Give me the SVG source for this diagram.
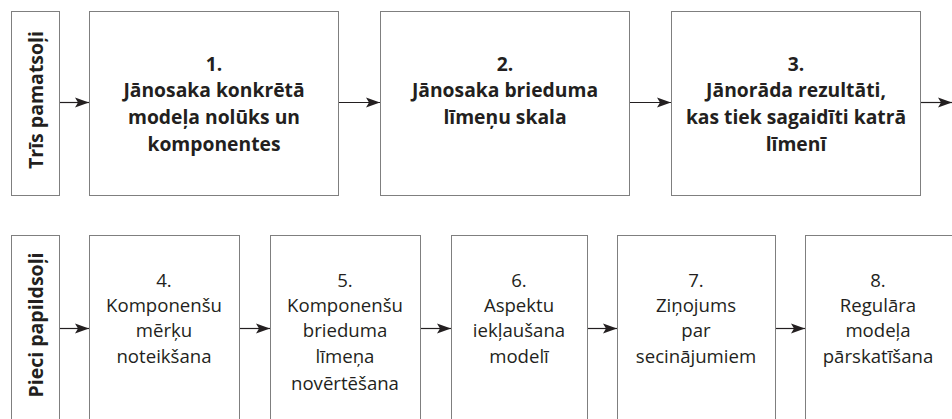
<svg xmlns="http://www.w3.org/2000/svg" width="952" height="419" viewBox="0 0 952 419">
<style>
.box{fill:#fff;stroke:#7f7f7f;stroke-width:1}
.b{font-family:"Open Sans","Liberation Sans",sans-serif;font-weight:bold;font-size:19.3px;fill:#231f20;text-anchor:middle}
.r{font-family:"Open Sans","Liberation Sans",sans-serif;font-size:18.6px;fill:#231f20;text-anchor:middle}
.lab{font-family:"Open Sans","Liberation Sans",sans-serif;font-weight:bold;font-size:19.5px;fill:#231f20;text-anchor:middle}
.con{stroke:#231f20;stroke-width:1.2;fill:none;marker-end:url(#ah)}
</style>
<defs>
<marker id="ah" markerUnits="userSpaceOnUse" markerWidth="16" markerHeight="12" refX="14" refY="6" orient="auto">
<path d="M0,1 L14,6 L0,11 L3,6 Z" fill="#231f20"/>
</marker>
</defs>
<rect width="952" height="419" fill="#fff"/>
<g id="label-top">
<rect class="box" x="11.5" y="11.5" width="48" height="184"/>
<text class="lab" transform="translate(43,100) rotate(-90)">Trīs pamatsoļi</text>
</g>
<g id="node1">
<rect class="box" x="89.5" y="11.5" width="249" height="184"/>
<text class="b" x="214" y="71">1.</text>
<text class="b" x="214" y="97">Jānosaka konkrētā</text>
<text class="b" x="214" y="124">modeļa nolūks un</text>
<text class="b" x="214" y="151">komponentes</text>
</g>
<g id="node2">
<rect class="box" x="380.5" y="11.5" width="249" height="184"/>
<text class="b" x="505" y="71">2.</text>
<text class="b" x="505" y="97">Jānosaka brieduma</text>
<text class="b" x="505" y="124">līmeņu skala</text>
</g>
<g id="node3">
<rect class="box" x="671.5" y="11.5" width="249" height="184"/>
<text class="b" x="796" y="71">3.</text>
<text class="b" x="796" y="97">Jānorāda rezultāti,</text>
<text class="b" x="796" y="124">kas tiek sagaidīti katrā</text>
<text class="b" x="796" y="151">līmenī</text>
</g>
<g id="label-bottom">
<rect class="box" x="11.5" y="235.5" width="48" height="200"/>
<text class="lab" transform="translate(43,325) rotate(-90)">Pieci papildsoļi</text>
</g>
<g id="node4">
<rect class="box" x="89.5" y="235.5" width="150" height="200"/>
<text class="r" x="164" y="287">4.</text>
<text class="r" x="164" y="312">Komponenšu</text>
<text class="r" x="164" y="337">mērķu</text>
<text class="r" x="164" y="363">noteikšana</text>
</g>
<g id="node5">
<rect class="box" x="270.5" y="235.5" width="150" height="200"/>
<text class="r" x="345" y="287">5.</text>
<text class="r" x="345" y="312">Komponenšu</text>
<text class="r" x="345" y="337">brieduma</text>
<text class="r" x="345" y="363">līmeņa</text>
<text class="r" x="345" y="390">novērtēšana</text>
</g>
<g id="node6">
<rect class="box" x="451.5" y="235.5" width="136" height="200"/>
<text class="r" x="519" y="287">6.</text>
<text class="r" x="519" y="312">Aspektu</text>
<text class="r" x="519" y="337">iekļaušana</text>
<text class="r" x="519" y="363">modelī</text>
</g>
<g id="node7">
<rect class="box" x="617.5" y="235.5" width="158" height="200"/>
<text class="r" x="696" y="287">7.</text>
<text class="r" x="696" y="312">Ziņojums</text>
<text class="r" x="696" y="337">par</text>
<text class="r" x="696" y="363">secinājumiem</text>
</g>
<g id="node8">
<rect class="box" x="805.5" y="235.5" width="160" height="200"/>
<text class="r" x="878" y="287">8.</text>
<text class="r" x="878" y="312">Regulāra</text>
<text class="r" x="878" y="337">modeļa</text>
<text class="r" x="878" y="363">pārskatīšana</text>
</g>
<g id="connectors">
<line class="con" x1="60" y1="102.5" x2="89" y2="102.5"/>
<line class="con" x1="339" y1="102.5" x2="380" y2="102.5"/>
<line class="con" x1="630" y1="102.5" x2="671" y2="102.5"/>
<line class="con" x1="921" y1="102.5" x2="952" y2="102.5"/>
<line class="con" x1="60" y1="328.5" x2="89" y2="328.5"/>
<line class="con" x1="240" y1="328.5" x2="270" y2="328.5"/>
<line class="con" x1="421" y1="328.5" x2="451" y2="328.5"/>
<line class="con" x1="588" y1="328.5" x2="617" y2="328.5"/>
<line class="con" x1="776" y1="328.5" x2="805" y2="328.5"/>
</g>
</svg>
